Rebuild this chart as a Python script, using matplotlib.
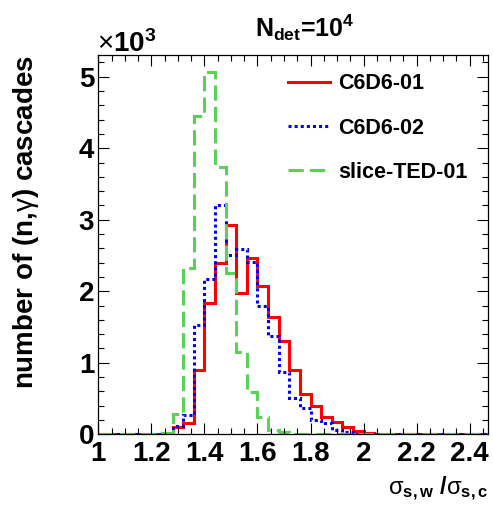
import numpy as np
import matplotlib
matplotlib.use("Agg")
import matplotlib.pyplot as plt
from matplotlib.ticker import MultipleLocator

plt.rcParams['font.family'] = ['Liberation Sans', 'DejaVu Sans']
plt.rcParams['font.weight'] = 'bold'
plt.rcParams['mathtext.fontset'] = 'custom'
plt.rcParams['mathtext.rm'] = 'Liberation Sans:bold'
plt.rcParams['mathtext.it'] = 'Liberation Sans:bold'
plt.rcParams['mathtext.bf'] = 'Liberation Sans:bold'
plt.rcParams['mathtext.sf'] = 'Liberation Sans:normal'

# bins of width 0.04 from 1.00 to 2.48
edges = np.round(np.arange(1.0, 2.4801, 0.04), 2)
# counts per bin (bin 7 starts at 1.28)
c6d6_01 = [0, 0, 0, 0, 0, 0, 5, 106, 153, 898, 1838, 2388, 2933, 1969, 2467, 2071,
           1642, 1307, 898, 563, 395, 237, 176, 106, 50, 20, 10, 5, 0, 0, 0, 0, 0, 0, 0, 0, 0]
c6d6_02 = [0, 0, 0, 0, 0, 0, 5, 116, 270, 1526, 2178, 3202, 2504, 2597, 2411, 1800,
           1373, 874, 503, 363, 200, 153, 60, 30, 10, 5, 0, 0, 0, 0, 0, 0, 0, 0, 0, 0, 0]
slice_ted = [0, 0, 0, 0, 0, 0, 20, 290, 2320, 4450, 5060, 3740, 2250, 1150, 590, 240,
             60, 30, 5, 0, 0, 0, 0, 0, 0, 0, 0, 0, 0, 0, 0, 0, 0, 0, 0, 0, 0]
labels = ["C6D6-01", "C6D6-02", "slice-TED-01"]

W, H = 493, 507
fig = plt.figure(figsize=(W / 100, H / 100), dpi=100)
ax = fig.add_axes([98.3 / W, 1 - 434.3 / H, 390 / W, 379.8 / H])

lw = 2.2
ax.stairs(np.array(c6d6_01) / 1000, edges, color="#ff0000", lw=lw, label=labels[0])
ax.stairs(np.array(c6d6_02) / 1000, edges, color="#0000ff", lw=lw, ls=(0, (1, 1)), label=labels[1])
ax.stairs(np.array(slice_ted) / 1000, edges, color="#5ad25a", lw=lw, ls=(0, (5, 2)), label=labels[2])

ax.set_xlim(1.0, 2.47)
ax.set_ylim(0, 5.31)
ax.xaxis.set_major_locator(MultipleLocator(0.2))
ax.xaxis.set_minor_locator(MultipleLocator(0.05))
ax.yaxis.set_major_locator(MultipleLocator(1))
ax.yaxis.set_minor_locator(MultipleLocator(0.2))
ax.set_xticks(np.arange(1.0, 2.41, 0.2))
ax.set_xticklabels(["1", "1.2", "1.4", "1.6", "1.8", "2", "2.2", "2.4"])
ax.set_yticks(range(6))
ax.set_yticklabels([str(i) for i in range(6)])
ax.tick_params(which="both", direction="in", top=True, right=True, width=0.8)
ax.tick_params(which="major", length=8, labelsize=20)
ax.tick_params(which="minor", length=4)
ax.tick_params(axis="x", pad=5)
ax.tick_params(axis="y", pad=3)
for s in ax.spines.values():
    s.set_linewidth(0.9)

ax.legend(loc="upper left", bbox_to_anchor=(0.486, 0.95), frameon=False,
          fontsize=15.5, handlelength=1.95, handletextpad=0.37, labelspacing=1.07,
          borderpad=0, borderaxespad=0)

fig.text(26 / W, 1 - 55 / H, "number of (n,$\\mathsf{\\gamma}$) cascades", rotation=90,
         ha="center", va="top", fontsize=20)
fig.text(488 / W, 1 - 495 / H, "$\\mathsf{\\sigma}_{s,w}$ /$\\mathsf{\\sigma}_{s,c}$",
         ha="right", va="baseline", fontsize=17)
fig.text(305 / W, 1 - 37 / H, "N$_{det}$=10$^{4}$", ha="center", va="baseline", fontsize=18)
fig.text(97 / W, 1 - 52 / H, "$\\mathsf{\\times}$10$^{3}$", ha="left", va="baseline", fontsize=20)

fig.savefig("out.png", dpi=100)
